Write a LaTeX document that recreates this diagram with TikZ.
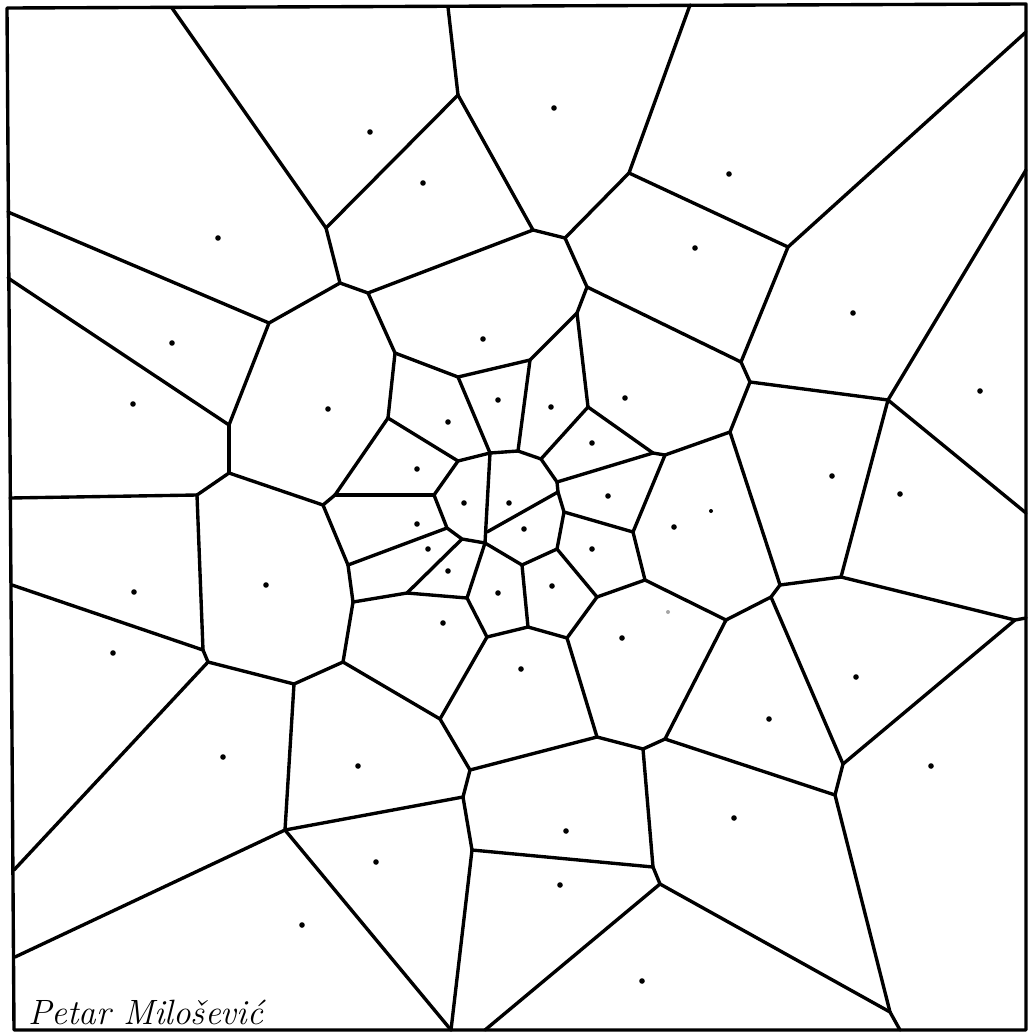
\documentclass[tikz,border=0pt]{standalone}
\usepackage{fontspec}
\begin{document}
\begin{tikzpicture}[x=0.025cm,y=-0.025cm,
  vline/.style={line width=2.4pt,line cap=round,line join=round,black},
  site/.style={fill=black,draw=none},
  faint/.style={fill=black!35,draw=none}]
\useasboundingbox (0,0) rectangle (1028,1032);
% frame corners
\coordinate (TL) at (7,8);
\coordinate (TR) at (1026,4);
\coordinate (BR) at (1026,1030);
\coordinate (BL) at (14,1030);
% frame points
\coordinate (T1) at (172,8);
\coordinate (T2) at (448,7);
\coordinate (T3) at (690,5);
\coordinate (R1) at (1026,32);
\coordinate (R2) at (1026,170);
\coordinate (R3) at (1026,513);
\coordinate (R4) at (1026,618);
\coordinate (Bo1) at (451,1030);
\coordinate (Bo2) at (485,1030);
\coordinate (Bo3) at (900,1030);
\coordinate (L1) at (8,212);
\coordinate (L2) at (8,278);
\coordinate (L3) at (10,498);
\coordinate (L4) at (12,585);
\coordinate (L5) at (14,870);
\coordinate (L6) at (15,957);
% vertices
\coordinate (A1) at (326,228);
\coordinate (A2) at (340,283);
\coordinate (A3) at (269,323);
\coordinate (B1) at (458,95);
\coordinate (B2) at (533,230);
\coordinate (B3) at (565,238);
\coordinate (B4) at (629,173);
\coordinate (B5) at (587,287);
\coordinate (B6) at (577,313);
\coordinate (B7) at (368,293);
\coordinate (C1) at (788,247);
\coordinate (D1) at (229,425);
\coordinate (D2) at (229,473);
\coordinate (D3) at (197,495);
\coordinate (D4) at (323,505);
\coordinate (D4b) at (335,495);
\coordinate (D5) at (203,650);
\coordinate (D6) at (208,662);
\coordinate (D7) at (294,684);
\coordinate (E1) at (395,353);
\coordinate (E2) at (458,377);
\coordinate (E3) at (530,360);
\coordinate (E6) at (588,407);
\coordinate (V1) at (653,453);
\coordinate (V2) at (665,455);
\coordinate (F1) at (388,418);
\coordinate (c1) at (490,453);
\coordinate (c2) at (518,451);
\coordinate (c3) at (541,459);
\coordinate (c4) at (557,482);
\coordinate (c5) at (558,492);
\coordinate (c6) at (564,512);
\coordinate (c7) at (557,549);
\coordinate (c8) at (522,565);
\coordinate (c10) at (485,543);
\coordinate (c11) at (487,532);
\coordinate (c12) at (462,539);
\coordinate (c13) at (447,528);
\coordinate (c14) at (434,495);
\coordinate (c15) at (458,461);
\coordinate (G1) at (348,565);
\coordinate (G2) at (407,593);
\coordinate (G3) at (467,598);
\coordinate (G4) at (528,627);
\coordinate (G5) at (597,597);
\coordinate (G6) at (633,532);
\coordinate (G7) at (645,580);
\coordinate (G8) at (567,638);
\coordinate (G9) at (487,637);
\coordinate (G10) at (353,602);
\coordinate (G11) at (343,662);
\coordinate (H1) at (741,362);
\coordinate (H2) at (750,382);
\coordinate (H3) at (888,400);
\coordinate (H4) at (841,577);
\coordinate (H5) at (730,432);
\coordinate (H6) at (780,585);
\coordinate (H7) at (771,597);
\coordinate (H8) at (726,620);
\coordinate (H9) at (1015,620);
\coordinate (I1) at (285,830);
\coordinate (J1) at (440,719);
\coordinate (J2) at (470,770);
\coordinate (J3) at (597,737);
\coordinate (J4) at (643,749);
\coordinate (J5) at (665,739);
\coordinate (J6) at (653,867);
\coordinate (J7) at (463,797);
\coordinate (J8) at (472,850);
\coordinate (J9) at (660,884);
\coordinate (K1) at (843,764);
\coordinate (K2) at (835,795);
\coordinate (K3) at (890,1012);
% frame
\draw[vline] (TL) -- (TR) -- (BR) -- (BL) -- cycle;
% edges
\foreach \a/\b in {T1/A1,A1/B1,A1/A2,A2/A3,A2/B7,L1/A3,A3/D1,L2/D1,D1/D2,D2/D3,D2/D4,
  L3/D3,D3/D5,L4/D5,D5/D6,D6/L5,D6/D7,D7/G11,D7/I1,I1/L6,I1/J7,I1/Bo1,
  T2/B1,B1/B2,B2/B3,B2/B7,B3/B4,B4/T3,B4/C1,B3/B5,B5/B6,B5/H1,B6/E3,B6/E6,
  C1/R1,C1/H1,H1/H2,H2/H3,H2/H5,H3/R2,H3/R3,H3/H4,H4/H6,H4/H9,H9/R4,H9/K1,
  H5/V2,H5/H6,H6/H7,H7/H8,H7/K1,H8/G7,H8/J5,K1/K2,K2/J5,K2/K3,K3/Bo3,K3/J9,
  J9/Bo2,J9/J6,J6/J4,J6/J8,J8/J7,J8/Bo1,J7/J2,J2/J1,J2/J3,J3/J4,J3/G8,J4/J5,
  J1/G11,J1/G9,B7/E1,E1/E2,E1/F1,E2/E3,E2/c1,E3/c2,E6/c3,E6/V1,V1/V2,V1/c4,
  V2/G6,F1/c15,F1/D4b,D4b/D4,D4b/c14,D4/G1,G1/c13,G1/G10,G10/G2,G10/G11,
  G2/c12,G2/G3,G3/c10,G3/G9,G9/G4,G4/c8,G4/G8,G8/G5,G5/c7,G5/G7,G7/G6,G6/c6,
  c1/c10,c11/c5}
  \draw[vline] (\a) -- (\b);
\draw[vline] (c1) -- (c2) -- (c3) -- (c4) -- (c5) -- (c6) -- (c7) -- (c8) -- (c10)
  -- (c12) -- (c13) -- (c14) -- (c15) -- cycle;
% sites
\foreach \p in {(218,238),(172,343),(370,132),(423,183),(554,108),(483,339),(729,174),
  (695,248),(853,313),(133,404),(328,409),(134,592),(266,585),(113,653),(498,400),
  (551,407),(625,398),(448,422),(592,443),(417,469),(464,503),(509,503),(608,496),
  (417,524),(524,529),(674,527),(428,549),(592,549),(448,571),(552,586),(498,593),
  (443,623),(622,638),(521,669),(980,391),(832,476),(900,494),(856,677),(223,757),
  (302,925),(358,766),(566,831),(376,862),(560,885),(642,981),(769,719),(931,766),
  (734,818)}
  \fill[site] \p circle (2.8);
\fill[site] (711,511) circle (2);
\fill[faint] (668,612) circle (2);
% signature
\node[anchor=base west,inner sep=0pt,font=\fontsize{25}{25}\selectfont\itshape] (sig) at (28,1024) {Petar Milošević};
\end{tikzpicture}
\end{document}
